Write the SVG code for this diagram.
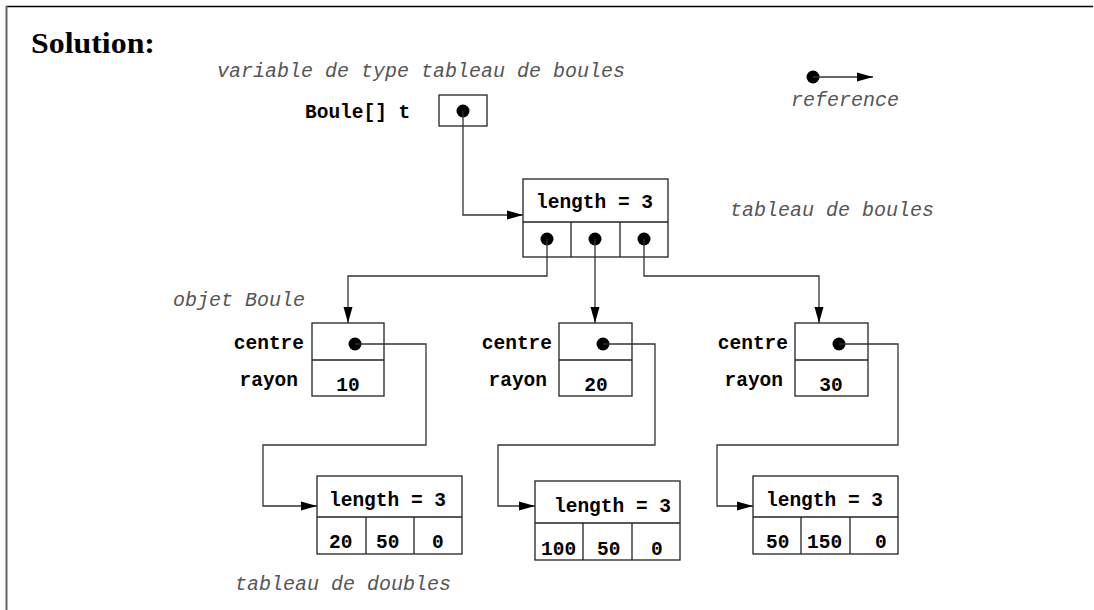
<svg xmlns="http://www.w3.org/2000/svg" width="1094" height="610" viewBox="0 0 1094 610">
<defs>
<style>
.box{fill:none;stroke:#222;stroke-width:1.3}
.ln{fill:none;stroke:#333;stroke-width:1.3}
.dot{fill:#000}
.b{font-family:"Liberation Mono",monospace;font-weight:bold;font-size:19.5px;fill:#000}
.i{font-family:"Liberation Mono",monospace;font-style:italic;font-size:20px;fill:#555}
.title{font-family:"Liberation Serif",serif;font-weight:bold;font-size:29px;fill:#000}
</style>
<marker id="ah" markerUnits="userSpaceOnUse" markerWidth="18" markerHeight="12" refX="16" refY="6" orient="auto">
<path d="M0,1.5 L16,6 L0,10.5 Z" fill="#000"/>
</marker>
</defs>
<rect width="1094" height="610" fill="#fff"/>
<g id="frame">
<line x1="6" y1="6.5" x2="1093" y2="6.5" stroke="#000" stroke-width="1.5"/>
<line x1="6.5" y1="6" x2="6.5" y2="610" stroke="#666" stroke-width="2"/>
</g>
<text class="title" x="31" y="53" textLength="124" lengthAdjust="spacingAndGlyphs">Solution:</text>

<g id="legend">
<circle class="dot" cx="813" cy="77" r="6.5"/>
<line class="ln" x1="813" y1="77" x2="873" y2="77" marker-end="url(#ah)"/>
<text class="i" x="791" y="106">reference</text>
</g>

<g id="var-t">
<text class="i" x="217" y="77">variable de type tableau de boules</text>
<text class="b" x="305" y="118">Boule[] t</text>
<rect class="box" x="439" y="95" width="48" height="31"/>
<circle class="dot" cx="463" cy="111" r="6.5"/>
</g>

<g id="tab-boules">
<rect class="box" x="523" y="179" width="145" height="78"/>
<line class="box" x1="523" y1="222" x2="668" y2="222"/>
<line class="box" x1="571" y1="222" x2="571" y2="257"/>
<line class="box" x1="620" y1="222" x2="620" y2="257"/>
<text class="b" x="536" y="208">length = 3</text>
<circle class="dot" cx="547" cy="239" r="6.5"/>
<circle class="dot" cx="595" cy="239" r="6.5"/>
<circle class="dot" cx="644" cy="239" r="6.5"/>
<text class="i" x="730" y="216">tableau de boules</text>
</g>

<g id="boule1">
<text class="i" x="173" y="306">objet Boule</text>
<rect class="box" x="312" y="323" width="72" height="73"/>
<line class="box" x1="312" y1="360" x2="384" y2="360"/>
<text class="b" x="304" y="349" text-anchor="end">centre</text>
<text class="b" x="298" y="386" text-anchor="end">rayon</text>
<text class="b" x="348" y="391" text-anchor="middle">10</text>
<circle class="dot" cx="355" cy="344" r="6.5"/>
</g>

<g id="boule2">
<rect class="box" x="559" y="323" width="73" height="73"/>
<line class="box" x1="559" y1="360" x2="632" y2="360"/>
<text class="b" x="552" y="349" text-anchor="end">centre</text>
<text class="b" x="547" y="386" text-anchor="end">rayon</text>
<text class="b" x="596" y="391" text-anchor="middle">20</text>
<circle class="dot" cx="603" cy="344" r="6.5"/>
</g>

<g id="boule3">
<rect class="box" x="795" y="323" width="73" height="73"/>
<line class="box" x1="795" y1="360" x2="868" y2="360"/>
<text class="b" x="788" y="349" text-anchor="end">centre</text>
<text class="b" x="783" y="386" text-anchor="end">rayon</text>
<text class="b" x="831" y="391" text-anchor="middle">30</text>
<circle class="dot" cx="839" cy="344" r="6.5"/>
</g>

<g id="doubles1">
<rect class="box" x="317" y="476" width="145" height="78"/>
<line class="box" x1="317" y1="517" x2="462" y2="517"/>
<line class="box" x1="366" y1="517" x2="366" y2="554"/>
<line class="box" x1="414" y1="517" x2="414" y2="554"/>
<text class="b" x="329" y="506">length = 3</text>
<text class="b" x="329" y="548">20</text>
<text class="b" x="376" y="548">50</text>
<text class="b" x="432" y="548">0</text>
<text class="i" x="235" y="590">tableau de doubles</text>
</g>

<g id="doubles2">
<rect class="box" x="535" y="481" width="145" height="79"/>
<line class="box" x1="535" y1="523" x2="680" y2="523"/>
<line class="box" x1="583" y1="523" x2="583" y2="560"/>
<line class="box" x1="632" y1="523" x2="632" y2="560"/>
<text class="b" x="554" y="512">length = 3</text>
<text class="b" x="541" y="555">100</text>
<text class="b" x="597" y="555">50</text>
<text class="b" x="651" y="555">0</text>
</g>

<g id="doubles3">
<rect class="box" x="753" y="476" width="145" height="78"/>
<line class="box" x1="753" y1="517" x2="898" y2="517"/>
<line class="box" x1="801" y1="517" x2="801" y2="554"/>
<line class="box" x1="850" y1="517" x2="850" y2="554"/>
<text class="b" x="766" y="506">length = 3</text>
<text class="b" x="766" y="548">50</text>
<text class="b" x="807" y="548">150</text>
<text class="b" x="875" y="548">0</text>
</g>

<g id="connectors">
<path class="ln" d="M463,111 V215 H523" marker-end="url(#ah)"/>
<path class="ln" d="M547,239 V276 H348 V323" marker-end="url(#ah)"/>
<path class="ln" d="M595,239 V323" marker-end="url(#ah)"/>
<path class="ln" d="M644,239 V276 H819 V323" marker-end="url(#ah)"/>
<path class="ln" d="M355,344 H426 V445 H263 V506 H317" marker-end="url(#ah)"/>
<path class="ln" d="M603,344 H655 V445 H498 V506 H535" marker-end="url(#ah)"/>
<path class="ln" d="M839,344 H898 V445 H717 V506 H753" marker-end="url(#ah)"/>
</g>
</svg>
